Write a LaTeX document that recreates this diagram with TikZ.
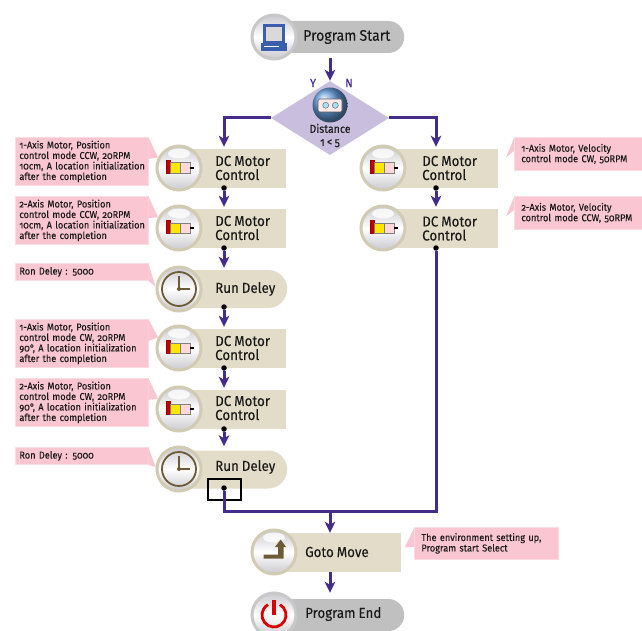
\documentclass[tikz,border=0pt]{standalone}
\usepackage{fontspec}
\setmainfont[Numbers=OldStyle,FakeStretch=0.92,FakeBold=0.04,WordSpace=0.85]{Fira Sans}
\usetikzlibrary{arrows.meta,shapes.geometric,shapes.misc}
\definecolor{flowc}{HTML}{432C8C}
\definecolor{tan}{HTML}{E3DCC8}
\definecolor{ringc}{HTML}{D2CBB4}
\definecolor{ringg}{HTML}{C8C8C8}
\definecolor{greyb}{HTML}{C0C0C0}
\definecolor{pinkn}{HTML}{FAC6D2}
\definecolor{pinke}{HTML}{FBDCE3}
\definecolor{dia}{HTML}{C9BEDD}
\definecolor{brownc}{HTML}{6E5A34}
\definecolor{txt}{HTML}{1A1A1A}
\definecolor{mon}{HTML}{3A5FAE}
\definecolor{shadeg}{HTML}{C9C9CF}
\tikzset{
 flow/.style={draw=flowc,line width=3pt,-{Stealth[length=11pt,width=10.5pt,inset=3pt]}},
 flowline/.style={draw=flowc,line width=3pt},
 rectbody/.style={rectangle,fill=tan,minimum width=#1,minimum height=39pt,inner sep=0pt,anchor=west},
 pillbody/.style={rounded rectangle,rounded rectangle west arc=none,minimum width=#1,minimum height=38pt,inner sep=0pt,anchor=west},
 ringnode/.style={circle,minimum size=44pt,inner sep=0pt,draw=#1,line width=3pt,top color=shadeg,bottom color=shadeg,middle color=white},
 junction/.style={circle,fill=black,minimum size=5.5pt,inner sep=0pt},
 lab/.style={anchor=west,align=left,text=txt,inner sep=0pt,font=\fontsize{14.5}{14}\selectfont},
 note/.style={rectangle,fill=pinkn,draw=pinke,line width=0.8pt,anchor=north west,inner xsep=4.5pt,inner ysep=0pt,align=left,text=txt,font=\fontsize{10}{10.5}\selectfont},
 notel/.style={note,text width=124pt,minimum height=#1},
 noter/.style={note,inner xsep=7pt,text width=116pt,minimum height=33pt},
 tail/.style={fill=pinkn},
}
\newcommand{\motoricon}[1]{%
 \begin{scope}[shift={(#1)}]
 \fill[white,opacity=.8] (0,-14.5) ellipse [x radius=11,y radius=5];
 \filldraw[fill=red!75!black,draw=red!60!black,line width=.3pt] (-13,-8.3) rectangle (-9,5);
 \filldraw[fill=yellow!90!orange,draw=gray,line width=.4pt] (-9,-5.3) rectangle (1,5);
 \filldraw[fill=pink!60!white,draw=gray,line width=.4pt] (1,-5.3) rectangle (11,5);
 \fill[black] (11,-.7) rectangle (15,.7);
 \end{scope}}
\newcommand{\clockicon}[1]{%
 \begin{scope}[shift={(#1)}]
 \draw[brownc,line width=1.8pt] (0,0) circle (17);
 \draw[brownc,line width=1.6pt] (0,-13) -- (0,0) -- (11,0);
 \fill[brownc] (0,0) circle (2);
 \end{scope}}
\begin{document}
\begin{tikzpicture}[x=1pt,y=-1pt]
\useasboundingbox (0,0) rectangle (642,631);
\clip (0,0) rectangle (642,631);
\fill[white] (0,0) rectangle (642,631);

% bodies
\node[pillbody=131pt,fill=greyb,minimum height=32pt] (sb) at (273,37) {};
\node[ringnode=ringg] (sc) at (274,37) {};
\node[diamond,fill=dia,minimum width=118pt,minimum height=74pt,inner sep=0pt,aspect=1.6] (dm) at (330,118) {};

\node[rectbody=107pt] (m1) at (179,168.5) {};
\node[rectbody=107pt] (m2) at (179,228.5) {};
\node[pillbody=108pt,fill=tan] (r1) at (179,289) {};
\node[rectbody=107pt] (m3) at (179,348.5) {};
\node[rectbody=107pt] (m4) at (179,409.5) {};
\node[pillbody=108pt,fill=tan] (r2) at (179,469.5) {};
\node[rectbody=115pt] (m5) at (383,168.5) {};
\node[rectbody=115pt] (m6) at (383,228.5) {};
\node[rectbody=127pt] (gm) at (274,552.5) {};
\node[pillbody=130pt,fill=greyb,minimum height=32pt] (eb) at (274,615) {};

\node[ringnode=ringc] (c1) at (179,168) {};
\node[ringnode=ringc] (c2) at (179,228) {};
\node[ringnode=ringc] (c3) at (179,289) {};
\node[ringnode=ringc] (c4) at (179,348) {};
\node[ringnode=ringc] (c5) at (179,409) {};
\node[ringnode=ringc] (c6) at (179,469) {};
\node[ringnode=ringc] (c7) at (383,168) {};
\node[ringnode=ringc] (c8) at (383,228) {};
\node[ringnode=ringc] (c9) at (274,552) {};
\node[ringnode=ringg] (c10) at (274,615) {};

% icons
\motoricon{c1}\motoricon{c2}\motoricon{c4}\motoricon{c5}\motoricon{c7}\motoricon{c8}
\clockicon{c3}\clockicon{c6}
\begin{scope}[shift={(sc)}]
 \filldraw[fill=gray!30,draw=mon,line width=2.4pt] (-9.5,-11.5) rectangle (9.5,5);
 \fill[mon] (-13,6) -- (13,6) -- (13,14) -- (-13,14) -- cycle;
 \fill[white] (-10,9) rectangle (5,10.5);
\end{scope}
\begin{scope}[shift={(c9)}]
 \fill[white,opacity=.8] (0,-14.5) ellipse [x radius=11,y radius=5];
 \fill[brownc] (-10.5,6.7) -- (-10.5,2.7) -- (4,2.7) -- (4,-5) -- (1,-5) -- (6.7,-12.5) -- (12,-5) -- (9.5,-5) -- (9.5,6.7) -- cycle;
\end{scope}
\begin{scope}[shift={(c10)}]
 \draw[red!85!black,line width=2.8pt] (-60:12) arc [start angle=-60,end angle=240,radius=12];
 \fill[red!85!black] (-1.6,-15) rectangle (1.6,0);
\end{scope}

% ball
\shade[ball color={rgb,255:red,105;green,160;blue,222}] (330,105) circle (17.5);
\filldraw[fill=pink!35!white,draw=gray!70!black,line width=.6pt,rounded corners=1.5pt] (318,99) rectangle (342,112);
\filldraw[fill=cyan!35!white,draw=gray!70!black,line width=.4pt] (325.7,105.3) circle (3);
\filldraw[fill=cyan!35!white,draw=gray!70!black,line width=.4pt] (335.3,105.3) circle (3);

% notes
\node[notel=48pt] (n1) at (14.5,137) {1-Axis Motor, Position\\control mode CCW, 20RPM\\\mbox{10cm, A location initialization}\\after the completion};
\node[notel=48pt] (n2) at (14.5,196) {2-Axis Motor, Position\\control mode CCW, 20RPM\\\mbox{10cm, A location initialization}\\after the completion};
\node[notel=17pt] (n3) at (14.5,263) {Ron Deley : 5000};
\node[notel=48pt] (n4) at (14.5,319) {1-Axis Motor, Position\\control mode CW, 20RPM\\90°, A location initialization\\after the completion};
\node[notel=48pt] (n5) at (14.5,378) {2-Axis Motor, Position\\control mode CW, 20RPM\\90°, A location initialization\\after the completion};
\node[notel=17pt] (n6) at (14.5,447) {Ron Deley : 5000};
\node[noter] (n7) at (514,137) {1-Axis Motor, Velocity\\control mode CW, 50RPM};
\node[noter] (n8) at (514,196) {2-Axis Motor, Velocity\\control mode CCW, 50RPM};
\node[noter,text width=130pt,minimum height=32pt] (n9) at (414,527) {The environment setting up,\\Program start Select};

\foreach \n/\c/\a in {n1/c1/153,n2/c2/153,n4/c4/153,n5/c5/153}{
 \fill[tail] (\n.north east) -- (\c.\a) -- ([yshift=-22pt]\n.north east) -- cycle;}
\foreach \n/\c/\a in {n3/c3/175,n6/c6/175}{
 \fill[tail] (\n.north east) -- (\c.\a) -- (\n.south east) -- cycle;}
\foreach \n in {n7,n8}{
 \fill[tail] ([yshift=-1pt]\n.north west) -- ([yshift=-20.5pt,xshift=-8pt]\n.north west) -- ([yshift=-14pt]\n.north west) -- cycle;}
\fill[tail] ([yshift=-1pt]n9.north west) -- ([yshift=-20pt,xshift=-9pt]n9.north west) -- ([yshift=-20pt]n9.north west) -- cycle;

% labels
\node[lab,font=\fontsize{15.3}{14}\selectfont] (t0) at (303,37) {Program Start};
\node[lab,font=\fontsize{11.5}{13}\selectfont,align=center,anchor=center] (t1) at (330,135.5) {Distance\\1 < 5};
\node[text=flowc,inner sep=0pt,font=\fontsize{12}{12}\selectfont] (ty) at (313,83) {Y};
\node[text=flowc,inner sep=0pt,font=\fontsize{12}{12}\selectfont] (tn) at (349,83) {N};
\foreach \nm/\x/\y in {a/215/168,b/215/228,c/215/348,d/215/408,e/422/168,f/422/228.5}{
 \node[lab] (t\nm) at (\x,\y) {DC Motor\\Control};}
\node[lab] (tr1) at (215,289) {Run Deley};
\node[lab] (tr2) at (215,467) {Run Deley};
\node[lab] (tg) at (305,552) {Goto Move};
\node[lab] (te) at (305,614) {Program End};

% box round the last junction
\node[draw=black,line width=1.2pt,minimum width=33pt,minimum height=21pt,inner sep=0pt] (bx) at (224.5,489.5) {};

% junctions
\node[junction] (d1) at (224,188) {};
\node[junction] (d2) at (224,248) {};
\node[junction] (d3) at (224,307) {};
\node[junction] (d4) at (224,368) {};
\node[junction] (d5) at (224,429) {};
\node[junction] (d6) at (224,488) {};
\node[junction] (d7) at (436,188) {};
\node[junction] (d8) at (436,248) {};
\coordinate (top) at (330,58);
\coordinate (jn) at (330,511);

% connectors
\draw[flow] (top) -- (top |- dm.north);
\draw[flow,shorten >=2pt] (dm.west) -- (d1 |- dm.west) -- (d1 |- m1.north);
\draw[flow,shorten >=2pt] (dm.east) -- (d7 |- dm.east) -- (d7 |- m5.north);
\draw[flow,shorten >=2pt] (d1) -- (d1 |- m2.north);
\draw[flow,shorten >=2pt] (d2) -- (d2 |- r1.north);
\draw[flow,shorten >=2pt] (d3) -- (d3 |- m3.north);
\draw[flow,shorten >=2pt] (d4) -- (d4 |- m4.north);
\draw[flow,shorten >=4pt] (d5) -- (d5 |- r2.north);
\draw[flow,shorten >=2pt] (d7) -- (d7 |- m6.north);
\draw[flowline] (d6) |- (jn) -| (d8);
\draw[flow] (jn) -- (jn |- gm.north);
\draw[flow,shorten >=6pt] (jn |- gm.south) -- (jn |- eb.north);
\end{tikzpicture}
\end{document}
